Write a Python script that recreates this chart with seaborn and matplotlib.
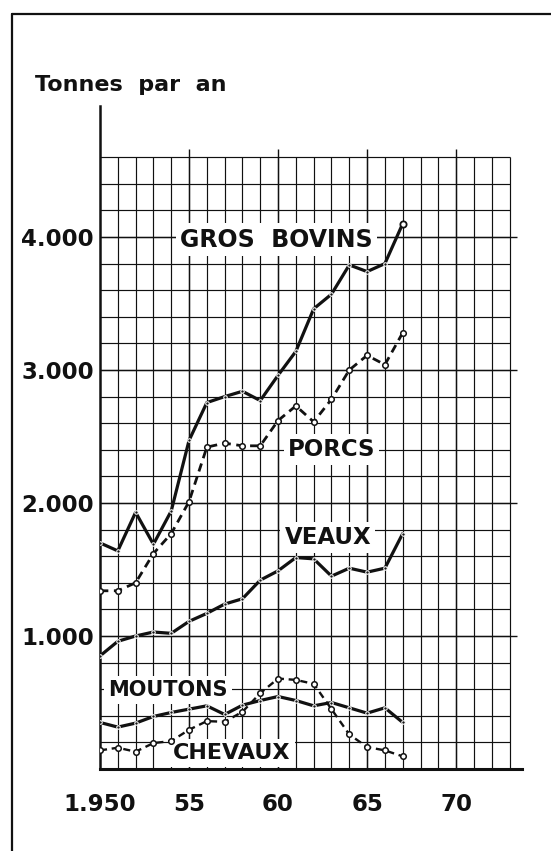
import numpy as np
import pandas as pd
import matplotlib
matplotlib.use("Agg")
import matplotlib.pyplot as plt
from matplotlib.lines import Line2D
import seaborn as sns

years = list(range(1950, 1968))
gros_bovins = [1700, 1640, 1930, 1690, 1940, 2470, 2755, 2800, 2840, 2770,
               2960, 3140, 3460, 3570, 3790, 3740, 3800, 4100]
porcs = [1340, 1340, 1400, 1620, 1770, 2010, 2420, 2450, 2430, 2430,
         2620, 2730, 2610, 2780, 3000, 3110, 3040, 3280]
veaux = [850, 960, 1000, 1030, 1020, 1110, 1170, 1240, 1280, 1420,
         1490, 1590, 1580, 1450, 1510, 1480, 1510, 1770]
moutons = [350, 315, 345, 395, 425, 450, 475, 410, 480, 515,
           545, 515, 475, 500, 460, 420, 460, 350]
chevaux = [140, 160, 130, 195, 210, 295, 360, 355, 430, 570,
           680, 670, 640, 450, 260, 165, 140, 95]

y_ticks = [1000, 2000, 3000, 4000]
y_tick_labels = ["1.000", "2.000", "3.000", "4.000"]
x_ticks = [1950, 1955, 1960, 1965, 1970]
x_tick_labels = ["1.950", "55", "60", "65", "70"]

sns.set_theme(style="white")
plt.rcParams["font.family"] = ["DejaVu Sans"]
plt.rcParams["font.weight"] = "bold"

fig = plt.figure(figsize=(5.51, 8.51), dpi=100)
ax = fig.add_axes([100 / 551, 82 / 851, 422 / 551, 663 / 851])
ax.set_xlim(1950, 1973.7)
ax.set_ylim(0, 4985)
ax.set_facecolor("white")

# grille millimetrée
ink = "#111111"
ax.vlines(range(1951, 1974), 0, 4600, color=ink, lw=0.85, zorder=1)
ax.vlines(x_ticks[1:], -45, 4660, color=ink, lw=1.0, zorder=1)
ax.hlines(range(200, 4601, 200), 1950, 1973, color=ink, lw=0.85, zorder=1)
ax.hlines(y_ticks, 1950, 1973.4, color=ink, lw=1.0, zorder=1)

for side in ["top", "right"]:
    ax.spines[side].set_visible(False)
ax.spines["left"].set_linewidth(1.8)
ax.spines["bottom"].set_linewidth(2.2)
ax.spines["left"].set_color(ink)
ax.spines["bottom"].set_color(ink)

# courbes
solid = dict(color=ink, lw=2.3, marker="o", markersize=2.5, zorder=4)
dashed = dict(color=ink, lw=2.0, linestyle=(0, (3, 2)), marker="o",
              markersize=4, markerfacecolor="white", markeredgecolor=ink,
              markeredgewidth=1.1, zorder=4)
sns.lineplot(x=years, y=gros_bovins, ax=ax, **solid)
sns.lineplot(x=years, y=porcs, ax=ax, **dashed)
sns.lineplot(x=years, y=veaux, ax=ax, **solid)
sns.lineplot(x=years, y=moutons, ax=ax, **solid)
sns.lineplot(x=years, y=chevaux, ax=ax, **dict(dashed, lw=1.7))
ax.plot(years[-1], gros_bovins[-1], "o", ms=4.5, mfc="white", mec=ink, mew=1.3, zorder=5)

box = dict(facecolor="white", edgecolor="none", pad=3)
labels = [("GROS  BOVINS", 1959.9, 3980, 17), ("PORCS", 1963.0, 2400, 16.5),
          ("VEAUX", 1962.8, 1740, 16.5), ("MOUTONS", 1953.8, 595, 15),
          ("CHEVAUX", 1957.4, 120, 16)]
for txt, xx, yy, fs in labels:
    ax.text(xx, yy, txt, ha="center", va="center", fontsize=fs,
            fontweight="bold", color=ink, bbox=box, zorder=3)

ax.set_xticks(x_ticks, x_tick_labels)
ax.set_yticks(y_ticks, y_tick_labels)
ax.tick_params(axis="x", length=0, pad=17, labelsize=16.5, colors=ink)
ax.tick_params(axis="y", length=0, pad=4.5, labelsize=16.5, colors=ink)
ax.set_xlabel("")
ax.set_ylabel("")

fig.text(35 / 551, 1 - 91 / 851, "Tonnes  par  an", fontsize=16, fontweight="bold",
         color=ink, ha="left", va="baseline")

# cadre
fig.add_artist(Line2D([12 / 551, 1], [1 - 14 / 851, 1 - 14 / 851],
                      transform=fig.transFigure, color=ink, lw=1.6))
fig.add_artist(Line2D([12 / 551, 12 / 551], [0, 1 - 14 / 851],
                      transform=fig.transFigure, color=ink, lw=1.6))

fig.savefig("out.png", dpi=100, facecolor="white")
